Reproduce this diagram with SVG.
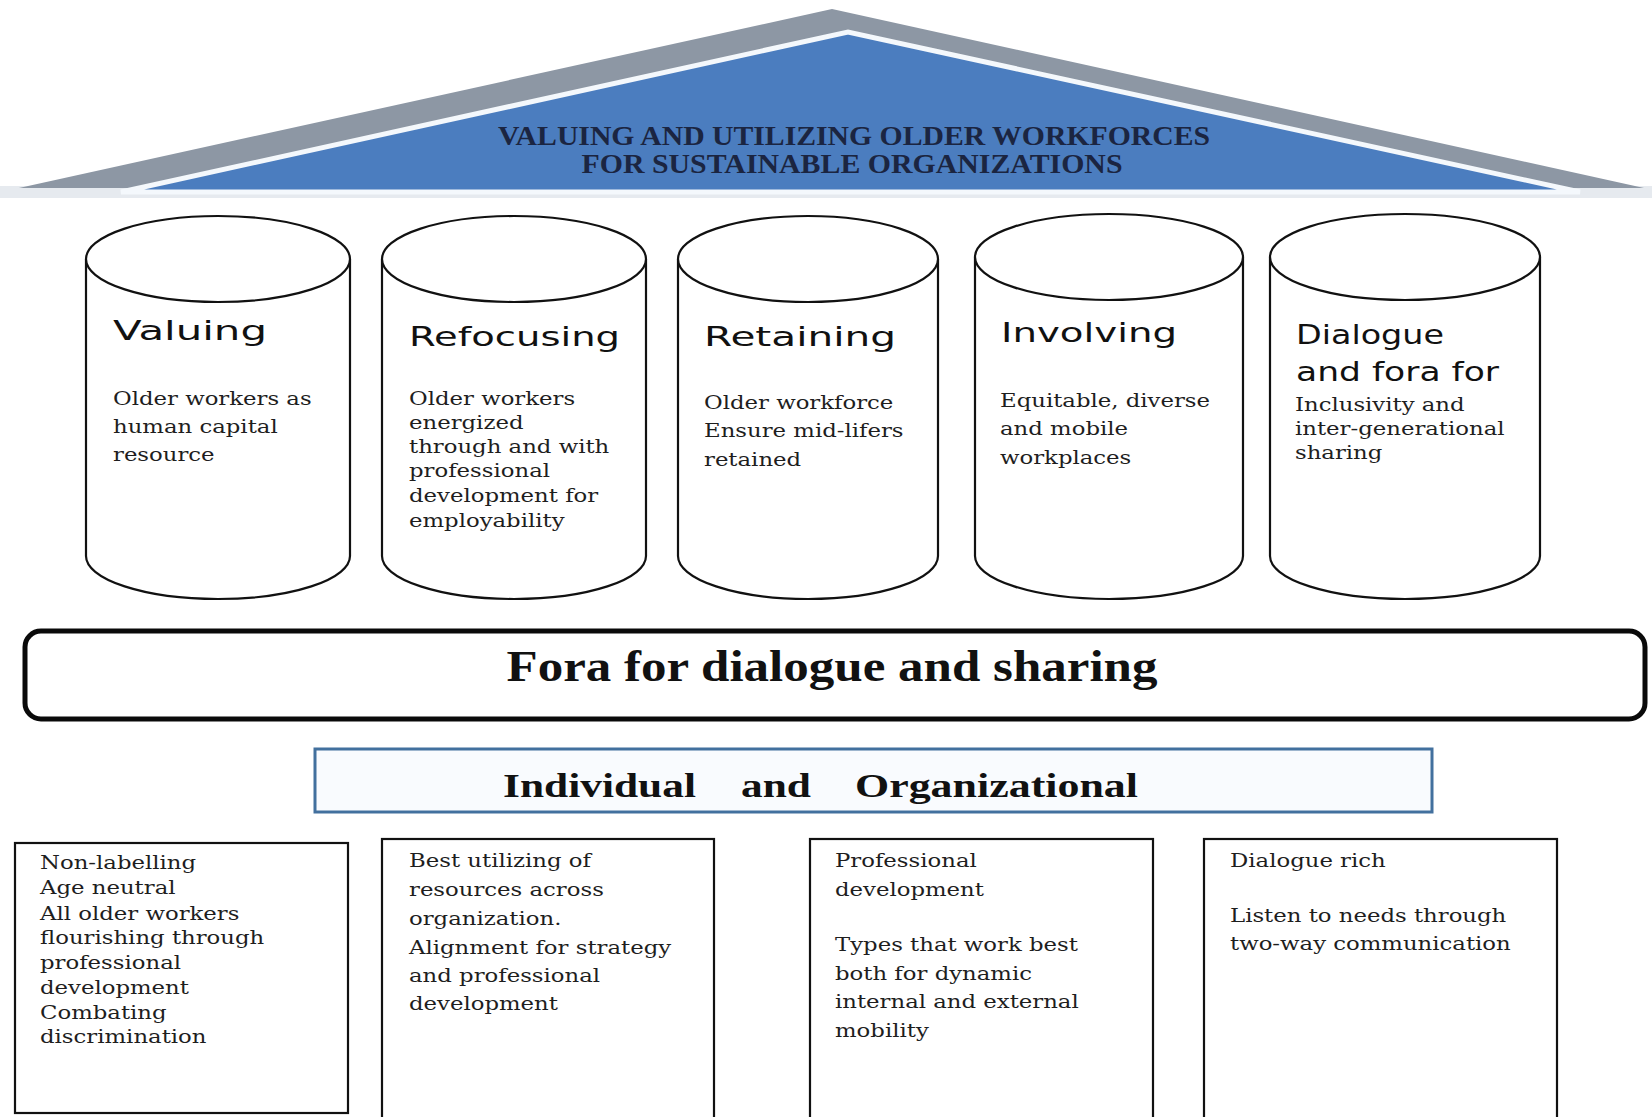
<svg xmlns="http://www.w3.org/2000/svg" width="1652" height="1117" viewBox="0 0 1652 1117">
<style>
.cyl{fill:#fff;stroke:#111;stroke-width:2.2}
.head{font-family:'DejaVu Sans',sans-serif;font-size:27px;fill:#111}
.body{font-family:'DejaVu Serif',serif;font-size:19px;fill:#1e1e1e}
.box{fill:#fff;stroke:#111;stroke-width:2.2}
.title{font-family:'Liberation Serif',serif;font-weight:bold;font-size:27px;fill:#1b2541}
.big{font-family:'Liberation Serif',serif;font-weight:bold;fill:#111}
</style>
<rect width="1652" height="1117" fill="#fff"/>
<g id="roof">
<rect x="0" y="186" width="1652" height="12" fill="#e6eaef"/>
<polygon points="19,188 832,9 1644,188" fill="#8d97a4"/>
<polygon points="121,192 848,32 1580,192" fill="#4b7dbf" stroke="#f4f8fc" stroke-width="5" stroke-linejoin="miter"/>
<text class="title" x="854" y="145" text-anchor="middle" textLength="712" lengthAdjust="spacingAndGlyphs">VALUING AND UTILIZING OLDER WORKFORCES</text>
<text class="title" x="852" y="173" text-anchor="middle" textLength="541" lengthAdjust="spacingAndGlyphs">FOR SUSTAINABLE ORGANIZATIONS</text>
</g>
<g id="pillar-valuing">
<path class="cyl" d="M86,259 L86,556 A132,43 0 0 0 350,556 L350,259"/>
<ellipse class="cyl" cx="218" cy="259" rx="132" ry="43"/>
<text class="head" x="113" y="340" textLength="154" lengthAdjust="spacingAndGlyphs">Valuing</text>
<g transform="translate(113 0) scale(1.2 1)">
<text class="body" x="0" y="405">Older workers as</text>
<text class="body" x="0" y="433">human capital</text>
<text class="body" x="0" y="461">resource</text>
</g>
</g>
<g id="pillar-refocusing">
<path class="cyl" d="M382,259 L382,556 A132,43 0 0 0 646,556 L646,259"/>
<ellipse class="cyl" cx="514" cy="259" rx="132" ry="43"/>
<text class="head" x="409" y="346" textLength="211" lengthAdjust="spacingAndGlyphs">Refocusing</text>
<g transform="translate(409 0) scale(1.2 1)">
<text class="body" x="0" y="405">Older workers</text>
<text class="body" x="0" y="429">energized</text>
<text class="body" x="0" y="453">through and with</text>
<text class="body" x="0" y="477">professional</text>
<text class="body" x="0" y="502">development for</text>
<text class="body" x="0" y="527">employability</text>
</g>
</g>
<g id="pillar-retaining">
<path class="cyl" d="M678,259 L678,556 A130,43 0 0 0 938,556 L938,259"/>
<ellipse class="cyl" cx="808" cy="259" rx="130" ry="43"/>
<text class="head" x="704" y="346" textLength="192" lengthAdjust="spacingAndGlyphs">Retaining</text>
<g transform="translate(704 0) scale(1.2 1)">
<text class="body" x="0" y="409">Older workforce</text>
<text class="body" x="0" y="437">Ensure mid-lifers</text>
<text class="body" x="0" y="466">retained</text>
</g>
</g>
<g id="pillar-involving">
<path class="cyl" d="M975,257 L975,556 A134,43 0 0 0 1243,556 L1243,257"/>
<ellipse class="cyl" cx="1109" cy="257" rx="134" ry="43"/>
<text class="head" x="1001" y="342" textLength="176" lengthAdjust="spacingAndGlyphs">Involving</text>
<g transform="translate(1000 0) scale(1.2 1)">
<text class="body" x="0" y="407">Equitable, diverse</text>
<text class="body" x="0" y="435">and mobile</text>
<text class="body" x="0" y="464">workplaces</text>
</g>
</g>
<g id="pillar-dialogue">
<path class="cyl" d="M1270,257 L1270,556 A135,43 0 0 0 1540,556 L1540,257"/>
<ellipse class="cyl" cx="1405" cy="257" rx="135" ry="43"/>
<text class="head" x="1296" y="344" textLength="148" lengthAdjust="spacingAndGlyphs">Dialogue</text>
<text class="head" x="1296" y="381" textLength="203" lengthAdjust="spacingAndGlyphs">and fora for</text>
<g transform="translate(1295 0) scale(1.2 1)">
<text class="body" x="0" y="411">Inclusivity and</text>
<text class="body" x="0" y="435">inter-generational</text>
<text class="body" x="0" y="459">sharing</text>
</g>
</g>
<g id="fora">
<rect x="25" y="631" width="1620" height="88" rx="16" ry="16" fill="#fff" stroke="#0a0a0a" stroke-width="5"/>
<text class="big" x="832" y="681" font-size="44" text-anchor="middle" textLength="651" lengthAdjust="spacingAndGlyphs">Fora for dialogue and sharing</text>
</g>
<g id="individual-organizational">
<rect x="315" y="749" width="1117" height="63" fill="#f9fbfe" stroke="#42709e" stroke-width="3"/>
<text class="big" x="503" y="797" font-size="34" textLength="193" lengthAdjust="spacingAndGlyphs">Individual</text>
<text class="big" x="741" y="797" font-size="34" textLength="70" lengthAdjust="spacingAndGlyphs">and</text>
<text class="big" x="855" y="797" font-size="34" textLength="283" lengthAdjust="spacingAndGlyphs">Organizational</text>
</g>
<g id="box-individual">
<rect class="box" x="15" y="843" width="333" height="270"/>
<g transform="translate(40 0) scale(1.2 1)">
<text class="body" x="0" y="869">Non-labelling</text>
<text class="body" x="0" y="894">Age neutral</text>
<text class="body" x="0" y="920">All older workers</text>
<text class="body" x="0" y="944">flourishing through</text>
<text class="body" x="0" y="969">professional</text>
<text class="body" x="0" y="994">development</text>
<text class="body" x="0" y="1019">Combating</text>
<text class="body" x="0" y="1043">discrimination</text>
</g>
</g>
<g id="box-resources">
<rect class="box" x="382" y="839" width="332" height="290"/>
<g transform="translate(409 0) scale(1.2 1)">
<text class="body" x="0" y="867">Best utilizing of</text>
<text class="body" x="0" y="896">resources across</text>
<text class="body" x="0" y="925">organization.</text>
<text class="body" x="0" y="954">Alignment for strategy</text>
<text class="body" x="0" y="982">and professional</text>
<text class="body" x="0" y="1010">development</text>
</g>
</g>
<g id="box-professional">
<rect class="box" x="810" y="839" width="343" height="290"/>
<g transform="translate(835 0) scale(1.2 1)">
<text class="body" x="0" y="867">Professional</text>
<text class="body" x="0" y="896">development</text>
<text class="body" x="0" y="951">Types that work best</text>
<text class="body" x="0" y="980">both for dynamic</text>
<text class="body" x="0" y="1008">internal and external</text>
<text class="body" x="0" y="1037">mobility</text>
</g>
</g>
<g id="box-dialogue">
<rect class="box" x="1204" y="839" width="353" height="290"/>
<g transform="translate(1230 0) scale(1.2 1)">
<text class="body" x="0" y="867">Dialogue rich</text>
<text class="body" x="0" y="922">Listen to needs through</text>
<text class="body" x="0" y="950">two-way communication</text>
</g>
</g>
<g id="connectors"></g>
</svg>
